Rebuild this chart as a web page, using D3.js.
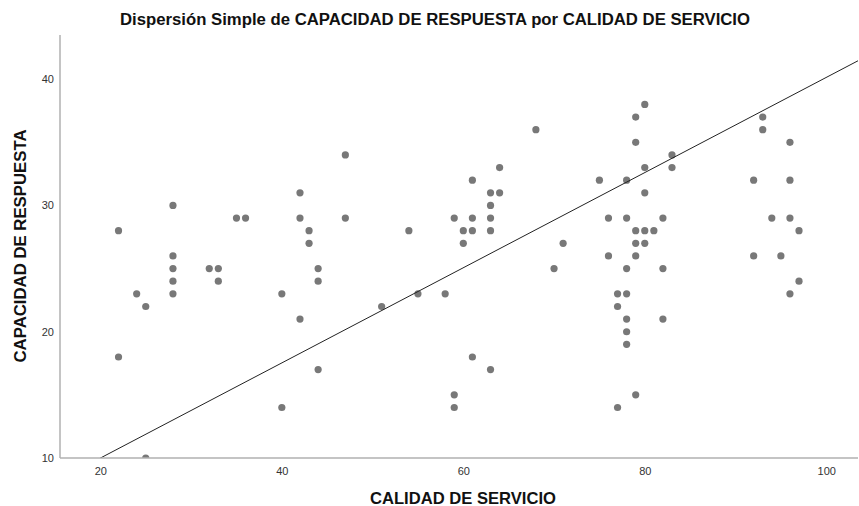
<!DOCTYPE html>
<html><head><meta charset="utf-8">
<script src="https://cdn.jsdelivr.net/npm/d3@7/dist/d3.min.js"></script>
<style>body{margin:0;background:#fff}svg{display:block}text{font-family:"Liberation Sans",Arial,sans-serif}</style>
</head><body><svg id="c" width="859" height="506"></svg>
<script>
const calidad = [22,22,24,25,25,28,28,28,28,28,32,33,33,35,36,40,40,42,42,42,43,43,44,44,44,47,47,51,54,55,58,59,59,59,60,60,61,61,61,61,63,63,63,63,63,64,64,68,70,71,75,76,76,77,77,77,78,78,78,78,78,78,78,79,79,79,79,79,79,80,80,80,80,80,81,82,82,82,83,83,92,92,93,93,94,95,96,96,96,96,97,97];
const capacidad = [28,18,23,22,10,30,26,25,24,23,25,25,24,29,29,23,14,31,29,21,28,27,25,24,17,34,29,22,28,23,23,29,15,14,28,27,32,29,28,18,31,30,29,28,17,33,31,36,25,27,32,29,26,23,22,14,32,29,25,23,21,20,19,37,35,28,27,26,15,38,33,31,28,27,28,29,25,21,34,33,32,26,37,36,29,26,35,32,29,23,28,24];
const xTicks = [20,40,60,80,100];
const yTicks = [10,20,30,40];
const fitIntercept = 2.46, fitSlope = 0.3768;
const title = "Dispersión Simple de CAPACIDAD DE RESPUESTA por CALIDAD DE SERVICIO";
const xTitle = "CALIDAD DE SERVICIO";
const yTitle = "CAPACIDAD DE RESPUESTA";

const L=60,R=858,T=35,B=458;
const svg=d3.select("#c");
const x=d3.scaleLinear().domain([15.55,103.5]).range([L,R]);
const y=d3.scaleLinear().domain([10,43.5]).range([B,T]);
svg.append("defs").append("clipPath").attr("id","pc").append("rect").attr("x",L).attr("y",T).attr("width",R-L).attr("height",B-T);
const data=calidad.map((v,i)=>({x:v,y:capacidad[i]}));
const g=svg.append("g").attr("clip-path","url(#pc)");
g.selectAll("circle").data(data).join("circle").attr("cx",d=>x(d.x)).attr("cy",d=>y(d.y)).attr("r",3.6).attr("fill","#787878");
const xd=x.domain();
g.append("line").attr("x1",x(xd[0])).attr("y1",y(fitIntercept+fitSlope*xd[0])).attr("x2",x(xd[1])).attr("y2",y(fitIntercept+fitSlope*xd[1])).attr("stroke","#222").attr("stroke-width",1);
// axes
const xa=svg.append("g").attr("transform",`translate(0,${B})`).call(d3.axisBottom(x).tickValues(xTicks).tickSize(0).tickPadding(9));
const ya=svg.append("g").attr("transform",`translate(${L},0)`).call(d3.axisLeft(y).tickValues(yTicks).tickSize(0).tickPadding(6));
[xa,ya].forEach(a=>{a.select(".domain").attr("stroke","#b0b0b0").attr("stroke-width",1.5);a.selectAll("text").attr("font-size",11).attr("fill","#333").attr("font-family","'Liberation Sans',Arial,sans-serif");});
ya.select(".domain").attr("d",`M0,${T}V${B}H0`);
xa.select(".domain").attr("d",`M${L},0H${R}`);
svg.append("text").attr("x",435).attr("y",25).attr("text-anchor","middle").attr("font-size",16).attr("font-weight","bold").attr("fill","#111")
  .attr("textLength",630).attr("lengthAdjust","spacingAndGlyphs").text(title);
svg.append("text").attr("x",463).attr("y",504).attr("text-anchor","middle").attr("font-size",16.5).attr("font-weight","bold").attr("fill","#111")
  .attr("textLength",186).attr("lengthAdjust","spacingAndGlyphs").text(xTitle);
svg.append("text").attr("transform","translate(26,246) rotate(-90)").attr("text-anchor","middle").attr("font-size",17).attr("font-weight","bold").attr("fill","#111")
  .attr("textLength",233).attr("lengthAdjust","spacingAndGlyphs").text(yTitle);
</script></body></html>
